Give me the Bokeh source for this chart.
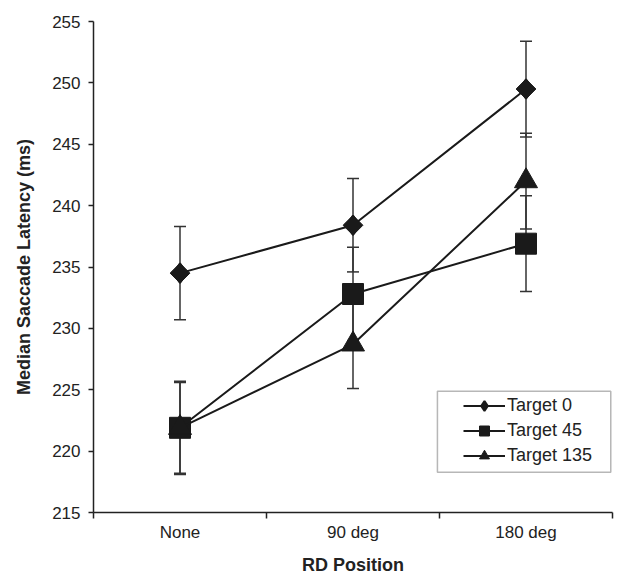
import numpy as np
from bokeh.plotting import figure
from bokeh.models import (FixedTicker, Whisker, ColumnDataSource, Range1d,
                          BoxAnnotation, Legend, LegendItem, TeeHead)
from bokeh.embed import file_html
from bokeh.resources import INLINE

# ---- data ----
categories = ["None", "90 deg", "180 deg"]
target0 = [234.5, 238.4, 249.5]
target0_err = [3.8, 3.8, 3.9]
target45 = [221.9, 232.8, 236.9]
target45_err = [3.8, 3.8, 3.9]
target135 = [221.9, 228.7, 242.0]
target135_err = [3.7, 3.6, 3.9]
series_names = ["Target 0", "Target 45", "Target 135"]
y_ticks = [215, 220, 225, 230, 235, 240, 245, 250, 255]

FONT = "Liberation Sans"
DARK = "#1a1a1a"

xc = [i + 0.5 for i in range(len(categories))]
bounds = list(range(len(categories) + 1))

p = figure(frame_width=519, frame_height=491,
           min_border_left=93, min_border_top=21, min_border_right=11, min_border_bottom=65,
           x_range=Range1d(0, len(categories)), y_range=Range1d(y_ticks[0], y_ticks[-1]),
           output_backend="svg", toolbar_location=None)
p.outline_line_color = None
p.xgrid.visible = False
p.ygrid.visible = False

# x axis: labels at centres, tick marks at category boundaries
xa = p.xaxis[0]
xa.ticker = FixedTicker(ticks=xc, minor_ticks=bounds)
xa.major_label_overrides = {v: c for v, c in zip(xc, categories)}
xa.major_tick_out = 0
xa.major_tick_in = 0
xa.minor_tick_out = 6
xa.minor_tick_in = 0
xa.minor_tick_line_color = "#222222"
xa.minor_tick_line_width = 1.5
xa.major_label_standoff = 4
xa.axis_label = "RD Position"
xa.axis_label_standoff = 10

ya = p.yaxis[0]
ya.ticker = FixedTicker(ticks=y_ticks, minor_ticks=[])
ya.major_tick_out = 5
ya.major_tick_in = 0
ya.major_label_standoff = 8
ya.axis_label = "Median Saccade Latency (ms)"
ya.axis_label_standoff = 15

for ax in (xa, ya):
    ax.axis_line_color = "#222222"
    ax.axis_line_width = 1.5
    ax.major_tick_line_color = "#222222"
    ax.major_tick_line_width = 1.5
    ax.major_label_text_font = FONT
    ax.major_label_text_font_size = "17px"
    ax.major_label_text_color = "#222222"
    ax.axis_label_text_font = FONT
    ax.axis_label_text_font_size = "18px"
    ax.axis_label_text_font_style = "bold"
    ax.axis_label_text_color = "#222222"

series = [
    (target0, target0_err, "square", 14, np.pi / 4),
    (target45, target45_err, "square", 21, 0.0),
    (target135, target135_err, "triangle", 23, 0.0),
]

items = []
for name, (vals, errs, marker, size, ang) in zip(series_names, series):
    src = ColumnDataSource(dict(
        x=xc, y=vals,
        upper=[v + e for v, e in zip(vals, errs)],
        lower=[v - e for v, e in zip(vals, errs)],
    ))
    w = Whisker(base="x", upper="upper", lower="lower", source=src,
                line_color="#333333", line_width=1.5, level="underlay",
                upper_head=TeeHead(size=12, line_color="#333333", line_width=1.5),
                lower_head=TeeHead(size=12, line_color="#333333", line_width=1.5))
    p.add_layout(w)
    ln = p.line("x", "y", source=src, line_color=DARK, line_width=2)
    leg_r = None
    if ang != 0.0:
        # plain diamond under the rotated square: hidden in the plot, used for the legend
        leg_r = p.scatter("x", "y", source=src, marker="diamond", size=size * 1.4,
                          fill_color=DARK, line_color=DARK, line_width=2)
    sc = p.scatter("x", "y", source=src, marker=marker, size=size, angle=ang,
                   fill_color=DARK, line_color=DARK)
    items.append(LegendItem(label=name, renderers=[ln, leg_r if leg_r is not None else sc]))

# legend frame
box = BoxAnnotation(left=1.988, right=2.99, bottom=218.28, top=224.88,
                    fill_color="white", fill_alpha=1.0,
                    line_color="#111111", line_width=1.5, level="annotation")
p.add_layout(box)

legend = Legend(items=items, location=(370, 44), padding=0, spacing=0,
                glyph_width=42, glyph_height=25, label_standoff=2,
                label_text_font=FONT, label_text_font_size="18px",
                label_text_color="#222222", label_height=25,
                border_line_alpha=0, background_fill_alpha=0, margin=0)
p.add_layout(legend)

open("out.html", "w").write(file_html(p, INLINE))
